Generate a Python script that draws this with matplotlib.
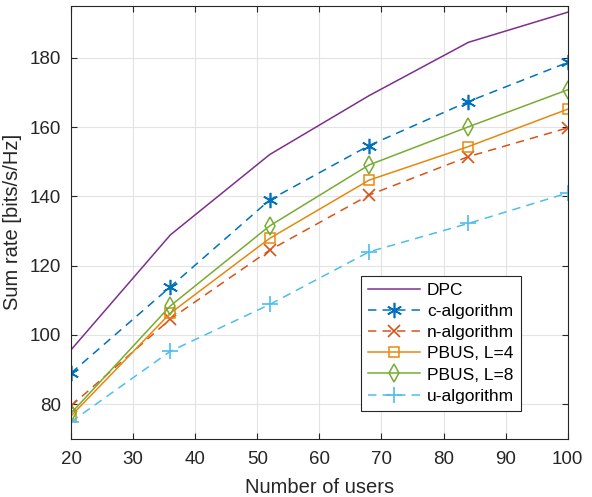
import numpy as np
import matplotlib.pyplot as plt

plt.rcParams['font.family'] = ['Liberation Sans', 'DejaVu Sans']

users = [20, 36, 52, 68, 84, 100]
dpc = [95.7, 128.9, 152.1, 169.1, 184.5, 193.2]
c_alg = [89.0, 113.9, 139.0, 154.7, 167.4, 178.7]
n_alg = [79.5, 104.6, 124.5, 140.4, 151.5, 159.8]
pbus4 = [76.6, 106.3, 127.9, 144.7, 154.4, 165.2]
pbus8 = [77.4, 108.4, 131.5, 149.1, 160.1, 170.8]
u_alg = [74.9, 95.3, 108.8, 124.0, 132.2, 141.0]

fig = plt.figure(figsize=(5.92, 4.97), dpi=100)
ax = fig.add_axes([0.12, 0.117, 0.839, 0.871])

lw = 1.1
dash = (5.5, 4)
ax.plot(users, dpc, '-', color='#7E2F8E', lw=lw, label='DPC')
ax.plot(users, c_alg, '--', color='#0072BD', lw=lw, marker=(6, 2, 0), ms=11,
        markeredgewidth=1.2, label='c-algorithm', dashes=dash)
ax.plot(users, n_alg, '--', color='#D95319', lw=lw, marker='x', ms=8,
        markeredgewidth=1.2, label='n-algorithm', dashes=dash)
ax.plot(users, pbus4, '-', color='#E8870E', lw=lw, marker='s', ms=7,
        mfc='none', markeredgewidth=1.1, label='PBUS, L=4')
ax.plot(users, pbus8, '-', color='#77AC30', lw=lw, marker='d', ms=9,
        mfc='none', markeredgewidth=1.1, label='PBUS, L=8')
ax.plot(users, u_alg, '--', color='#4DBEEE', lw=lw, marker='+', ms=11,
        markeredgewidth=1.2, label='u-algorithm', dashes=dash)

ax.set_xlim(20, 100)
ax.set_ylim(70, 195)
ax.set_xticks(np.arange(20, 101, 10))
ax.set_yticks(np.arange(80, 181, 20))
ax.grid(True, color='#e3e3e3', lw=0.8)
ax.set_axisbelow(True)
ax.tick_params(direction='in', top=True, right=True, labelsize=13.5,
               color='#262626', labelcolor='#262626', length=4, pad=7)
ax.tick_params(axis='x', pad=9)
for s in ax.spines.values():
    s.set_color('#262626')
    s.set_linewidth(0.8)

ax.set_xlabel('Number of users', fontsize=14.5, color='#262626', labelpad=7)
ax.set_ylabel('Sum rate [bits/s/Hz]', fontsize=14.5, color='#262626', labelpad=6)

leg = ax.legend(loc='lower right', bbox_to_anchor=(0.906, 0.065), fontsize=12.5,
                fancybox=False, edgecolor='#262626', framealpha=1,
                handlelength=3.0, borderpad=0.4, labelspacing=0.35,
                handletextpad=0.4, borderaxespad=0)
leg.get_frame().set_linewidth(0.8)

fig.savefig('out.png', dpi=100)
